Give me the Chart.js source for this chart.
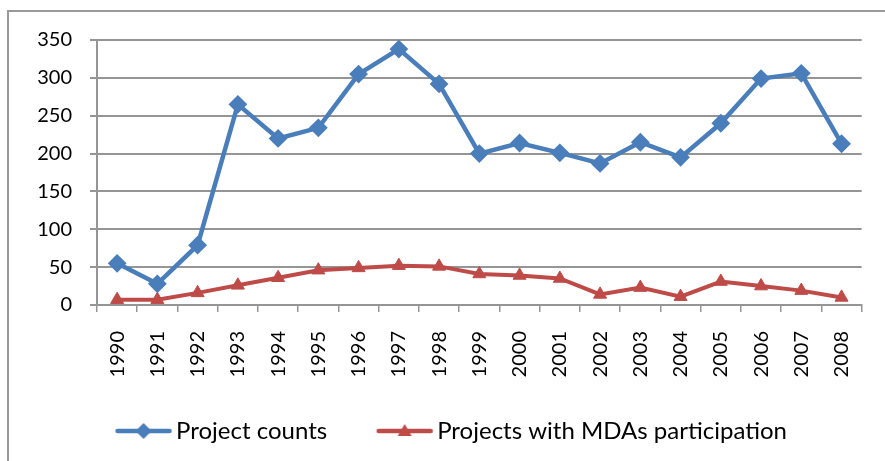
<!DOCTYPE html>
<html>
<head>
<meta charset="utf-8">
<script src="https://cdn.jsdelivr.net/npm/chart.js@4.4.1/dist/chart.umd.min.js"></script>
<style>
  html, body { margin: 0; padding: 0; background: #fff; overflow: hidden; }
  #wrap { position: relative; width: 885px; height: 461px; }
  #frame { position: absolute; left: 7px; top: 10px; width: 900px; height: 500px; border: 2px solid #9a9a9a; box-sizing: border-box; }
  #chart { position: absolute; left: 0; top: 0; }
</style>
</head>
<body>
<div id="wrap">
  <div id="frame"></div>
  <canvas id="chart" width="885" height="461"></canvas>
</div>
<script>
// Yearly project counts
const years = ['1990', '1991', '1992', '1993', '1994', '1995', '1996', '1997', '1998', '1999',
               '2000', '2001', '2002', '2003', '2004', '2005', '2006', '2007', '2008'];
const projectCounts = [55, 28, 79, 265, 220, 234, 305, 338, 292, 200, 214, 201, 187, 215, 195, 240, 299, 306, 213];
const mdaProjects = [7, 7, 16, 26, 36, 46, 49, 52, 51, 41, 39, 35, 14, 23, 11, 31, 25, 19, 10];
const yTicks = [0, 50, 100, 150, 200, 250, 300, 350];

const BLUE = '#4A7EBB';
const RED = '#BE4B48';
const GRID = '#959595';

Chart.defaults.font.family = 'Lato';
Chart.defaults.color = '#000';

// legend icon: short line with the series marker in the middle
function legendIcon(color, marker) {
    const c = document.createElement('canvas');
    c.width = 60; c.height = 22;
    const g = c.getContext('2d');
    g.strokeStyle = color;
    g.fillStyle = color;
    g.lineWidth = 4.5;
    g.lineCap = 'round';
    g.beginPath();
    g.moveTo(4, 11); g.lineTo(56, 11);
    g.stroke();
    g.beginPath();
    if (marker === 'diamond') {
        g.moveTo(30, 3); g.lineTo(38, 11); g.lineTo(30, 19); g.lineTo(22, 11);
    } else {
        g.moveTo(30, 4); g.lineTo(37, 16); g.lineTo(23, 16);
    }
    g.closePath();
    g.fill();
    return c;
}
const legendIcons = [legendIcon(BLUE, 'diamond'), legendIcon(RED, 'triangle')];

// move the legend to where the reference has it
const legendPlace = {
    id: 'legendPlace',
    afterLayout(chart) {
        const lg = chart.legend;
        const h = lg.height;
        lg.top = 362; lg.bottom = lg.top + h;
        lg.left += 21; lg.right += 21;
    }
};

const ctx = document.getElementById('chart').getContext('2d');
new Chart(ctx, {
    type: 'line',
    data: {
        labels: years,
        datasets: [{
            label: 'Project counts',
            data: projectCounts,
            borderColor: BLUE,
            backgroundColor: BLUE,
            borderWidth: 4.5,
            pointStyle: 'rectRot',
            pointRadius: 8,
            pointBorderWidth: 2,
            pointBackgroundColor: BLUE,
            pointBorderColor: BLUE,
            tension: 0
        }, {
            label: 'Projects with MDAs participation',
            data: mdaProjects,
            borderColor: RED,
            backgroundColor: RED,
            borderWidth: 4,
            pointStyle: 'triangle',
            pointRadius: 7.5,
            pointBorderWidth: 1,
            pointBackgroundColor: RED,
            pointBorderColor: RED,
            tension: 0
        }]
    },
    plugins: [legendPlace],
    options: {
        responsive: false,
        animation: false,
        layout: { padding: { left: 0, right: 17, top: 40, bottom: 0 } },
        plugins: {
            tooltip: { enabled: false },
            legend: {
                position: 'bottom',
                maxHeight: 84,
                labels: {
                    usePointStyle: true,
                    pointStyleWidth: 41,
                    padding: 57,
                    font: { size: 24 },
                    color: '#000',
                    generateLabels: function(chart) {
                        const items = Chart.defaults.plugins.legend.labels.generateLabels(chart);
                        items.forEach((item, i) => { item.pointStyle = legendIcons[i]; });
                        return items;
                    }
                }
            }
        },
        scales: {
            x: {
                offset: true,
                grid: { offset: true, drawOnChartArea: false, drawTicks: true, tickLength: 7, color: GRID, lineWidth: 1.5 },
                border: { color: GRID, width: 2 },
                ticks: { minRotation: 90, maxRotation: 90, autoSkip: false, padding: 19, font: { size: 20 }, color: '#000' },
                afterFit: function(scale) { scale.height = 72; }
            },
            y: {
                min: 0,
                max: 350,
                afterBuildTicks: function(scale) { scale.ticks = yTicks.map(v => ({ value: v })); },
                grid: { color: GRID, lineWidth: 2, tickLength: 7 },
                border: { color: GRID, width: 2 },
                ticks: { padding: 18, font: { size: 20 }, color: '#000' },
                afterFit: function(scale) { scale.width = 97; }
            }
        }
    }
});
</script>
</body>
</html>
